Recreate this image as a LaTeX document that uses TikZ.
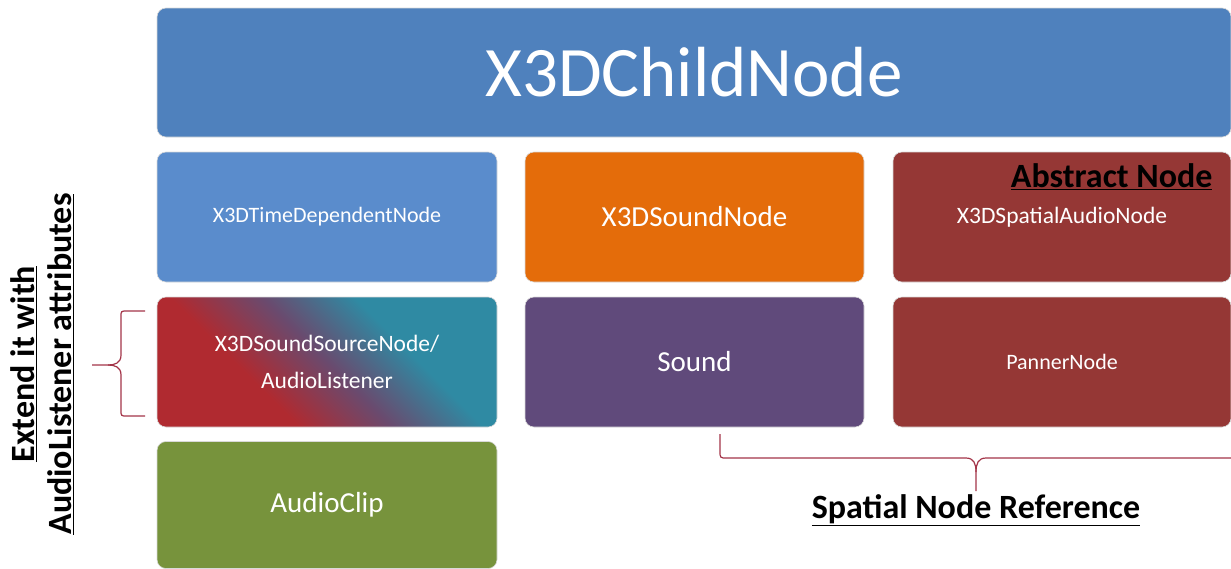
\documentclass[tikz,border=0pt]{standalone}
\usepackage{fontspec}
\setmainfont{Carlito}
\definecolor{cTop}{HTML}{4F81BD}
\definecolor{cTime}{HTML}{5A8CCC}
\definecolor{cOrange}{HTML}{E46C0A}
\definecolor{cRed}{HTML}{953735}
\definecolor{cPurple}{HTML}{604A7B}
\definecolor{cGreen}{HTML}{77933C}
\definecolor{cTeal}{HTML}{2F8AA3}
\definecolor{cGradRed}{HTML}{B02A30}
\definecolor{cGradMid}{HTML}{6A4A6E}
\definecolor{cBrace}{HTML}{A33448}
\pgfdeclareverticalshading{redteal}{100bp}{color(0bp)=(cGradRed); color(36bp)=(cGradRed); color(50bp)=(cGradMid); color(64bp)=(cTeal); color(100bp)=(cTeal)}
\begin{document}
\begin{tikzpicture}[x=1pt,y=-1pt,
  box/.style={rounded corners=9pt, minimum width=340pt, minimum height=130pt,
    inner sep=0pt, text=white, align=center, draw=white!85!black, line width=0.6pt},
  mid/.style={font=\fontsize{29}{33}\selectfont},
  brace/.style={draw=cBrace, line width=1.2pt},
  note/.style={font=\bfseries\fontsize{34}{40}\selectfont, text=black}]
\useasboundingbox (0,0) rectangle (1231,568);
\node[box, fill=cTop, minimum width=1074pt, minimum height=129pt,
  font=\fontsize{71}{75}\selectfont] (child) at (694,72.5) {X3DChildNode};
\node[box, fill=cTime, font=\fontsize{22}{26}\selectfont] (time) at (327,217) {X3DTimeDependentNode};
\node[box, fill=cOrange, mid, minimum width=339pt] (soundnode) at (694.5,217) {X3DSoundNode};
\node[box, fill=cRed, font=\fontsize{23.5}{28}\selectfont, minimum width=338pt] (spatial) at (1062,217) {X3DSpatialAudioNode};
\shade[shading=redteal, shading angle=-45, rounded corners=9pt] (157,297) rectangle (497,427);
\node[box, fill=none, font=\fontsize{23.5}{37}\selectfont] (source) at (327,362) {X3DSoundSourceNode/\\AudioListener};
\node[box, fill=cPurple, mid, minimum width=339pt] (sound) at (694.5,362) {Sound};
\node[box, fill=cRed, font=\fontsize{22}{26}\selectfont, minimum width=338pt] (panner) at (1062,362) {PannerNode};
\node[box, fill=cGreen, mid, minimum height=127pt] (clip) at (327,505) {AudioClip};
\node[note, anchor=east] (abstract) at (1216,177) {\underline{Abstract Node}};
\node[note] (ref) at (976,510) {\underline{Spatial Node Reference}};
\node[note, rotate=90, align=center, font=\bfseries\fontsize{34}{37}\selectfont] (extend) at (42,364) {\underline{Extend it with}\\\underline{AudioListener attributes}};
% left brace
\coordinate (lbT) at (145,311);
\coordinate (lbB) at (145,416);
\coordinate (lbTip) at (92,365);
\draw[brace] (lbT) -- (127,311) .. controls (121,311) .. (121,317) -- (121,355)
  .. controls (121,363) and (115,365) .. (108,365) -- (lbTip);
\draw[brace] (lbB) -- (127,416) .. controls (121,416) .. (121,410) -- (121,375)
  .. controls (121,367) and (115,365) .. (108,365);
% bottom brace
\coordinate (bbL) at (720,434);
\coordinate (bbR) at (1231,458);
\coordinate (bbTip) at (976,491);
\draw[brace] (bbL) -- (720,451) .. controls (720,458) .. (727,458) -- (966,458)
  .. controls (974,458) and (976,464) .. (976,472) -- (bbTip);
\draw[brace] (bbR) -- (986,458) .. controls (978,458) and (976,464) .. (976,472);
\end{tikzpicture}
\end{document}
